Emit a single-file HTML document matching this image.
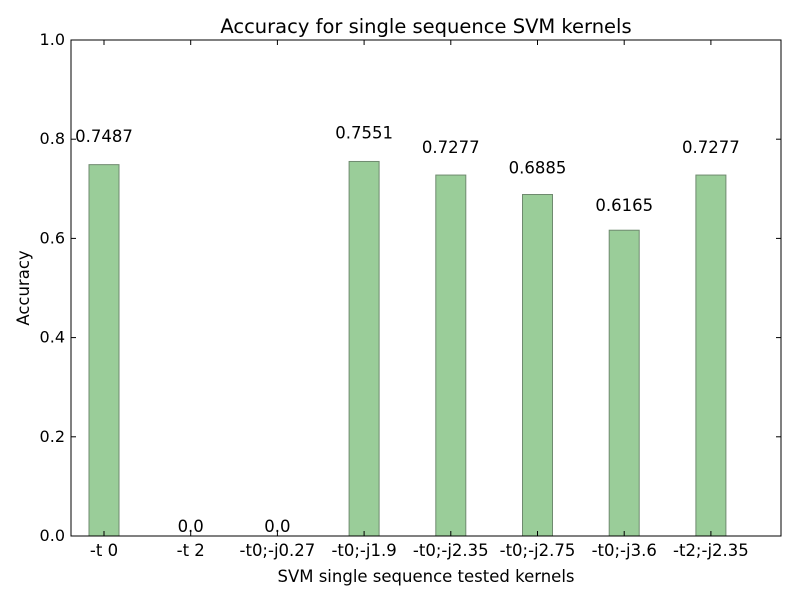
<!DOCTYPE html>
<html><head><meta charset="utf-8"><style>
html,body{margin:0;padding:0;background:#fff;}
svg text{font-family:"DejaVu Sans","Liberation Sans",sans-serif;}
</style></head><body>
<svg id="chart" width="800" height="600" xmlns="http://www.w3.org/2000/svg">
<rect x="0" y="0" width="800" height="600" fill="#fff"/>
<text x="426" y="33" font-size="19.5" text-anchor="middle">Accuracy for single sequence SVM kernels</text>
<text x="426" y="582" font-size="16.5" text-anchor="middle">SVM single sequence tested kernels</text>
<text x="29" y="288" font-size="16.5" text-anchor="middle" transform="rotate(-90 29 288)">Accuracy</text>
<g id="marks"></g>
<rect x="71" y="40" width="710" height="496" fill="none" stroke="#000" stroke-width="1"/>
</svg>
<script>
const categories = ["-t 0","-t 2","-t0;-j0.27","-t0;-j1.9","-t0;-j2.35","-t0;-j2.75","-t0;-j3.6","-t2;-j2.35"];
const values = [0.7487,0.0,0.0,0.7551,0.7277,0.6885,0.6165,0.7277];
const valueLabels = ["0.7487","0.0","0.0","0.7551","0.7277","0.6885","0.6165","0.7277"];
const yTicks = [0,0.2,0.4,0.6,0.8,1.0];
const yTickLabels = ["0.0","0.2","0.4","0.6","0.8","1.0"];

const NS="http://www.w3.org/2000/svg";
const g=document.getElementById('marks');
const y=v=>536-v*496;
const x=i=>104+i*86.7;
function mk(t,a){const e=document.createElementNS(NS,t);for(const k in a)e.setAttribute(k,a[k]);g.appendChild(e);return e;}
yTicks.forEach((t,i)=>{
  const l1=mk('line',{x1:71,x2:76,y1:y(t),y2:y(t),stroke:'#000'});
  
  
  const l2=mk('line',{x1:776,x2:781,y1:y(t),y2:y(t),stroke:'#000'});
  
  
  const tx=mk('text',{x:65,y:y(t)+5,'font-size':16,'text-anchor':'end'});
  tx.textContent=yTickLabels[i];
  
  
});
categories.forEach((c,i)=>{
  const cx=x(i);
  const b=mk('rect',{x:cx-15,y:y(values[i]),width:30,height:values[i]*496,fill:'#9acd99',stroke:'#6f8a6f','stroke-width':1});
  
  
  const vl=mk('text',{x:cx,y:y(values[i]*1.05)-4,'font-size':16.5,'text-anchor':'middle'});
  vl.textContent=valueLabels[i];
  
  
  const t1=mk('line',{x1:cx,x2:cx,y1:536,y2:531,stroke:'#000'});
  
  
  const t2=mk('line',{x1:cx,x2:cx,y1:40,y2:45,stroke:'#000'});
  
  
  const xl=mk('text',{x:cx,y:556,'font-size':16.5,'text-anchor':'middle'});
  xl.textContent=c;
  
  
});
</script>
</body></html>
